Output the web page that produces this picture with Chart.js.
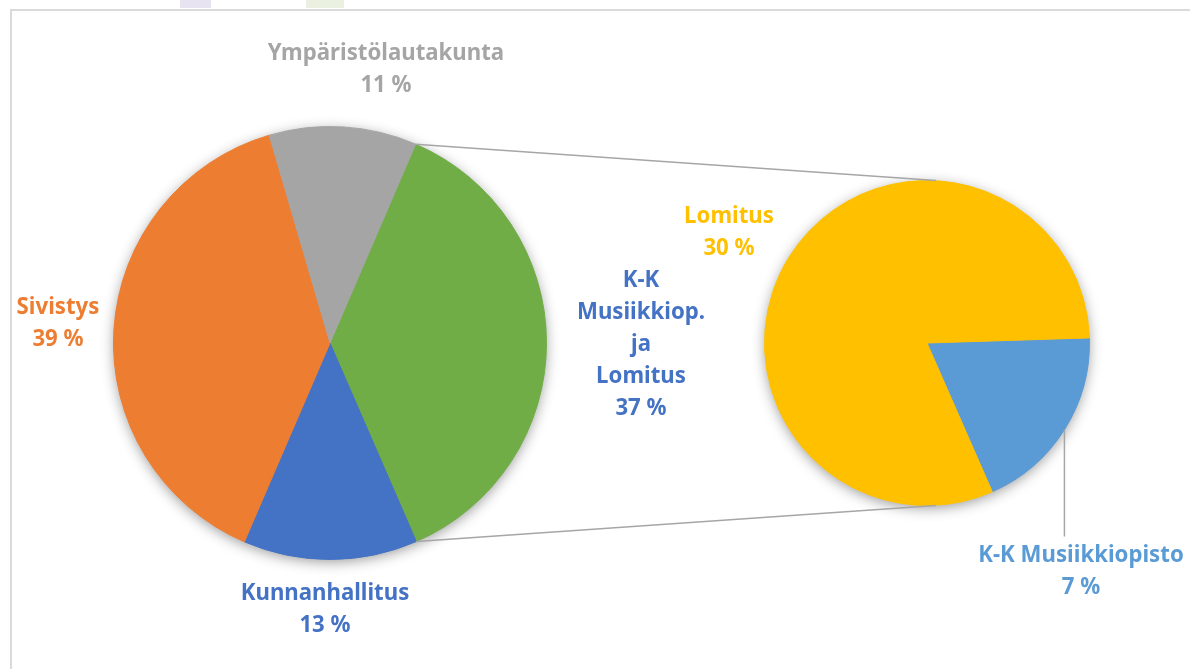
<!DOCTYPE html>
<html lang="fi">
<head>
<meta charset="utf-8">
<title>Jakauma</title>
<script src="https://cdn.jsdelivr.net/npm/chart.js@4.4.1/dist/chart.umd.min.js"></script>
<style>
  html, body { margin: 0; padding: 0; background: #fff; }
  .page { position: relative; width: 1190px; height: 669px; overflow: hidden; }
  .frame { position: absolute; left: 10px; top: 9px; width: 1200px; height: 680px; border-top: 2px solid #dadada; border-left: 2px solid #dadada; }
  .tab { position: absolute; top: 0; height: 8px; }
  .layer { position: absolute; left: 0; top: 0; width: 1190px; height: 669px; }
</style>
</head>
<body>
<div class="page">
  <div class="tab" style="left:180px;width:31px;background:#e8e3f0"></div>
  <div class="tab" style="left:306px;width:38px;background:#eaf1e0"></div>
  <div class="frame"></div>
  <div class="layer"><canvas id="mainPie"></canvas></div>
  <div class="layer"><canvas id="subPie"></canvas></div>
</div>
<script>
// Pääpiirakka
const mainLabels = ['K-K Musiikkiop. ja Lomitus', 'Kunnanhallitus', 'Sivistys', 'Ympäristölautakunta'];
const mainValues = [37, 13, 39, 11];
const mainColors = ['#70ad47', '#4472c4', '#ed7d31', '#a5a5a5'];

// Toinen piirakka: K-K Musiikkiop. ja Lomitus eriteltynä
const subLabels = ['K-K Musiikkiopisto', 'Lomitus'];
const subValues = [7, 30];
const subColors = ['#5b9bd5', '#ffc000'];

/**
 * Otsikoiden paikat (keskikohta, ensimmäisen rivin perusviiva)
 */
const labelPos = {
  'Ympäristölautakunta': { x: 386, y: 59.5 },
  'Sivistys': { x: 58, y: 314 },
  'Kunnanhallitus': { x: 325, y: 599.5 },
  'K-K Musiikkiop. ja Lomitus': { x: 641, y: 286.5, wrap: true, color: '#4472c4' },
  'Lomitus': { x: 729, y: 223 },
  'K-K Musiikkiopisto': { x: 1081, y: 561.5 }
};
const lineHeight = 32;
const labelFont = 'bold 24px "Noto Sans"';

// pehmeä varjo piirakan alle
const pieShadow = {
  id: 'pieShadow',
  beforeDatasetsDraw(chart) {
    const arc = chart.getDatasetMeta(0).data[0];
    if (!arc) return;
    const ctx = chart.ctx;
    ctx.save();
    ctx.shadowColor = 'rgba(0, 0, 0, 0.42)';
    ctx.shadowBlur = 14;
    ctx.shadowOffsetY = 3;
    ctx.fillStyle = '#fff';
    ctx.beginPath();
    ctx.arc(arc.x, arc.y, arc.outerRadius - 1, 0, Math.PI * 2);
    ctx.fill();
    ctx.restore();
  }
};

function drawLabel(ctx, name, value, color) {
  const pos = labelPos[name];
  if (!pos) return;
  const lines = pos.wrap ? name.split(' ') : [name];
  lines.push(value + ' %');
  ctx.fillStyle = pos.color || color;
  lines.forEach((line, i) => {
    // Calibri on kapeampi, joten puristetaan hieman
    const w = ctx.measureText(line).width * 0.925;
    ctx.fillText(line, pos.x, pos.y + i * lineHeight, w);
  });
}

const baseOptions = {
  responsive: true,
  maintainAspectRatio: false,
  animation: false,
  events: [],
  plugins: {
    legend: { display: false },
    tooltip: { enabled: false }
  }
};

var mainChart = new Chart(document.getElementById('mainPie'), {
  type: 'pie',
  data: {
    labels: mainLabels,
    datasets: [{
      data: mainValues,
      backgroundColor: mainColors,
      borderColor: mainColors,
      borderWidth: 1,
      hoverOffset: 0
    }]
  },
  options: {
    ...baseOptions,
    rotation: 23.3,
    layout: { padding: { left: 113, right: 643, top: 126, bottom: 109 } }
  },
  plugins: [pieShadow]
});

// yhdysviivat, selitysviiva ja otsikot
const connectors = {
  id: 'connectors',
  afterDatasetsDraw(chart) {
    const ctx = chart.ctx;
    const big = mainChart.getDatasetMeta(0).data[0];
    const small = chart.getDatasetMeta(0).data;
    const s = small[0];
    const pt = (arc, a) => [arc.x + arc.outerRadius * Math.cos(a), arc.y + arc.outerRadius * Math.sin(a)];

    ctx.save();
    ctx.strokeStyle = '#a6a6a6';
    ctx.lineWidth = 1.5;

    const p1 = pt(big, big.startAngle);
    const p2 = pt(big, big.endAngle);
    ctx.beginPath();
    ctx.moveTo(p1[0], p1[1]);
    ctx.lineTo(s.x + 9, s.y - s.outerRadius);
    ctx.moveTo(p2[0], p2[1]);
    ctx.lineTo(s.x + 9, s.y + s.outerRadius);
    ctx.stroke();

    // selitysviiva pienelle siivulle
    const mid = (s.startAngle + s.endAngle) / 2;
    const m = pt(s, mid);
    ctx.beginPath();
    ctx.moveTo(m[0], m[1]);
    ctx.lineTo(m[0], labelPos[subLabels[0]].y - 25);
    ctx.stroke();
    ctx.restore();
  },
  afterDraw(chart) {
    const ctx = chart.ctx;
    ctx.save();
    ctx.font = labelFont;
    ctx.textAlign = 'center';
    ctx.textBaseline = 'alphabetic';
    mainLabels.forEach((name, i) => drawLabel(ctx, name, mainValues[i], mainColors[i]));
    subLabels.forEach((name, i) => drawLabel(ctx, name, subValues[i], subColors[i]));
    ctx.restore();
  }
};

var subChart = new Chart(document.getElementById('subPie'), {
  type: 'pie',
  data: {
    labels: subLabels,
    datasets: [{
      data: subValues,
      backgroundColor: subColors,
      borderColor: subColors,
      borderWidth: 1,
      hoverOffset: 0
    }]
  },
  options: {
    ...baseOptions,
    rotation: 88.2,
    layout: { padding: { left: 764, right: 100, top: 180, bottom: 163 } }
  },
  plugins: [pieShadow, connectors]
});
</script>
</body>
</html>
